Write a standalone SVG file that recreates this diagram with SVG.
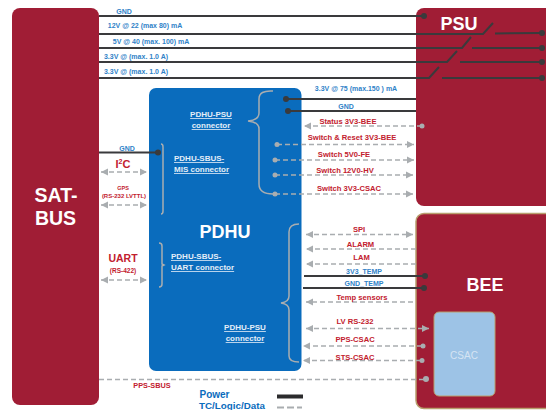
<svg xmlns="http://www.w3.org/2000/svg" width="546" height="410" viewBox="0 0 546 410">
<defs>
<marker id="ah" markerUnits="userSpaceOnUse" markerWidth="9" markerHeight="8" refX="7" refY="4" orient="auto-start-reverse"><path d="M0 0.500L7 4L0 7.500Z" fill="#a9adb0"/></marker>
</defs>
<style>
text{font-family:"Liberation Sans",Arial,sans-serif;font-weight:700}
.c{text-anchor:middle}
.b{fill:#2f82c8;font-size:7px}
.r{fill:#c2202e;font-size:7.6px}
.u{fill:#e4eef8;font-size:8px;text-decoration:underline}
.w{fill:#fff}
.p{stroke:#3a3a3c;stroke-width:2;fill:none}
.d{stroke:#a9adb0;stroke-width:1.7;stroke-dasharray:5 3;fill:none}
.a{marker-end:url(#ah)}
.s{marker-start:url(#ah)}
.br{stroke:#a9adb0;stroke-width:1.5;fill:none}
.dot{fill:#3a3a3c}
.gd{fill:#a9adb0}
.ms{fill:#a01d35}
</style>
<g id="sat-bus"><rect class="ms" x="12" y="8" width="87" height="397" rx="8"/><text class="c w" x="56" y="202" font-size="19.500">SAT-</text><text class="c w" x="55.500" y="225" font-size="19.500">BUS</text></g>
<g id="psu"><rect class="ms" x="416" y="8" width="140" height="198" rx="8"/><text class="c w" x="459" y="30" font-size="18">PSU</text></g>
<g id="bee"><rect class="ms" x="416" y="213.500" width="140" height="195" rx="8" stroke="#b89f6e" stroke-width="1.500"/><text class="c w" x="485" y="291" font-size="18">BEE</text></g>
<g id="csac"><rect x="434" y="312" width="61" height="84" rx="5" fill="#9dc3e6" stroke="#b89f6e"/><text class="c" x="464" y="359" font-size="10" fill="#d5e4f3" style="font-weight:400">CSAC</text></g>
<g id="pdhu"><rect x="149" y="88" width="152.500" height="283" rx="7" fill="#0a6cbd"/><text class="c w" x="225" y="238" font-size="18">PDHU</text>
<text class="c u" x="211" y="117">PDHU-PSU</text><text class="c u" x="211" y="128">connector</text>
<text class="u" x="174" y="161">PDHU-SBUS-</text><text class="u" x="174" y="172">MIS connector</text>
<text class="u" x="171" y="259">PDHU-SBUS-</text><text class="u" x="171" y="270">UART connector</text>
<text class="c u" x="245" y="330">PDHU-PSU</text><text class="c u" x="245" y="341">connector</text>
<path class="br" d="M273 91Q259 90 259 99V113Q259 120 248 121Q259 122 259 129V184Q259 194 273 194"/>
<path class="br" d="M161 144Q163 144 163 147V211Q163 214 161 214"/>
<path class="br" d="M159 243Q162 243 162 246V264L164 265L162 266V284Q162 287 159 287"/>
<path class="br" d="M299 224Q289 224 289 232V296Q289 302 281 303Q289 304 289 310V356Q289 362 299 362"/>
</g>
<g id="connectors">
<path class="p" d="M99 16H424M99 34H483L493 23M495 33.500L542 33M99 48H462L471 37M472 48H542M99 62H447L457 51M460 62H542M99 78H429L439 67M442 78H542M286 99H416M288 111H416M99 152.500H158"/>
<circle class="dot" cx="424" cy="16" r="3"/><circle class="dot" cx="542" cy="33" r="3"/><circle class="dot" cx="542" cy="48" r="3"/><circle class="dot" cx="542" cy="62" r="3"/><circle class="dot" cx="542" cy="78" r="3"/><circle class="dot" cx="286" cy="99" r="3"/><circle class="dot" cx="288" cy="111" r="3"/><circle class="dot" cx="158" cy="152.500" r="3"/>
<path class="d a s" d="M101 172H147"/><path class="d a s" d="M101 205H147"/><path class="d a s" d="M101 280H147"/>
<path class="d" d="M99 379.500H424"/><circle class="gd" cx="426" cy="379" r="3"/>
<path class="d a" d="M422 126H304"/><circle class="gd" cx="422" cy="126" r="2.500"/>
<path class="d a" d="M277 144.500H414"/><path class="d a" d="M275 160H414"/><path class="d a" d="M275 175H413"/><path class="d a" d="M275 194H413"/>
<circle class="gd" cx="277" cy="144.500" r="2.500"/><circle class="gd" cx="275" cy="160" r="2.500"/><circle class="gd" cx="275" cy="175" r="2.500"/><circle class="gd" cx="275" cy="194" r="2.500"/>
<path class="d a s" d="M306 234.500H413"/><path class="d a s" d="M306 328.500H429"/>
<path class="d a" d="M416 249H306"/><path class="d a" d="M416 264H306"/><path class="d a" d="M413 302H306"/><path class="d a" d="M422 346H303"/><path class="d a" d="M421 360.500H303"/>
<circle class="gd" cx="423" cy="346" r="2.500"/><circle class="gd" cx="422" cy="360.500" r="2.500"/>
<path class="p" d="M304 276H425M303 288H424"/><circle class="dot" cx="425" cy="276" r="3"/><circle class="dot" cx="424" cy="288" r="3"/>
<path d="M277 396.500H303" stroke="#2b2b2d" stroke-width="4"/><path d="M277 407.500H302" stroke="#a9adb0" stroke-width="2" stroke-dasharray="7 3"/>
</g>
<g id="labels">
<text class="c b" x="124" y="14">GND</text><text class="c b" x="145" y="28">12V @ 22 (max 80) mA</text><text class="c b" x="151" y="43.500">5V @ 40 (max. 100) mA</text><text class="c b" x="136" y="58.500">3.3V @ (max. 1.0 A)</text><text class="c b" x="136" y="73.500">3.3V @ (max. 1.0 A)</text>
<text class="c b" x="356" y="90.500">3.3V @ 75 (max.150 ) mA</text><text class="c b" x="346" y="108.500">GND</text><text class="c b" x="127" y="151">GND</text>
<text class="c r" x="123" y="168" style="font-size:11px">I<tspan style="font-size:7px" dy="-4">2</tspan><tspan dy="4">C</tspan></text>
<text class="c r" x="123" y="190" style="font-size:5.500px">GPS</text><text class="c r" x="124" y="198" style="font-size:6px">(RS-232 LVTTL)</text>
<text class="c r" x="123" y="262" style="font-size:10.500px">UART</text><text class="c r" x="123" y="273" style="font-size:6.500px">(RS-422)</text>
<text class="c r" x="152" y="388" style="font-size:7.300px">PPS-SBUS</text>
<text class="c r" x="348" y="124">Status 3V3-BEE</text><text class="c r" x="352" y="140">Switch &amp; Reset 3V3-BEE</text><text class="c r" x="344" y="157">Switch 5V0-FE</text><text class="c r" x="345" y="173">Switch 12V0-HV</text><text class="c r" x="349" y="191">Switch 3V3-CSAC</text>
<text class="c r" x="359" y="232">SPI</text><text class="c r" x="360.500" y="247">ALARM</text><text class="c r" x="361.500" y="260">LAM</text>
<text class="c b" x="364" y="274">3V3_TEMP</text><text class="c b" x="364" y="286">GND_TEMP</text>
<text class="c r" x="362" y="300">Temp sensors</text><text class="c r" x="355" y="324">LV RS-232</text><text class="c r" x="355" y="342">PPS-CSAC</text><text class="c r" x="355" y="360">STS-CSAC</text>
<text fill="#0a6cbd" x="199.500" y="397.600" font-size="10">Power</text><text fill="#0a6cbd" x="199" y="408.800" font-size="9.800">TC/Logic/Data</text>
</g>
</svg>
